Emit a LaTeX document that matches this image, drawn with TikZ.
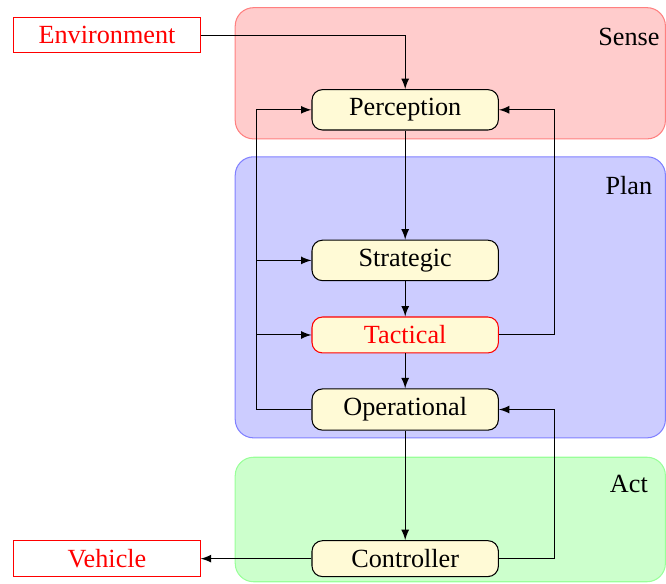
\documentclass[tikz,border=0pt]{standalone}
\usepackage{fontspec}
\setmainfont{Liberation Serif}
\usetikzlibrary{positioning}

\definecolor{boxfill}{RGB}{255,250,214}

\tikzset{
	layer/.style={rounded corners=7pt, thin},
	block/.style={draw, fill=boxfill, rounded corners=4pt, minimum width=2.5cm, thin},
	outside/.style={draw=red, text=red, fill=white, minimum width=2.5cm, thin},
}

\begin{document}
\begin{tikzpicture}[>=latex]
		\useasboundingbox (-1.435,-0.327) rectangle (7.498,7.493);
		% layers
		\draw[layer, draw=red!50, fill=red!20] (1.72,5.63) rectangle (7.49,7.39);
		\draw[layer, draw=blue!50, fill=blue!20] (1.72,1.62) rectangle (7.49,5.39);
		\draw[layer, draw=green!40, fill=green!20] (1.72,-0.31) rectangle (7.49,1.36);
		\node (sense) at (7,7) {Sense};
		\node (plan) at (7,5) {Plan};
		\node (act) at (7,1) {Act};

		\node[block] (perception) at (4,6.02) {Perception};
		\node[block] (strategic) at (4,4) {Strategic};
		\node[block, draw=red, text=red] (tactical) at (4,3) {Tactical};
		\node[block] (operational) at (4,2) {Operational};
		\node[block] (controller) at (4,0) {Controller};
		\node[outside] (environment) at (0,7.02) {Environment};
		\node[outside] (vehicle) at (0,0) {Vehicle};

		\coordinate (leftbus) at (2,0);
		\coordinate (rightbus) at (6,0);

		\draw[->] (environment) -| (perception);
		\draw[->] (perception) -- (strategic);
		\draw[->] (strategic) -- (tactical);
		\draw[->] (tactical) -- (operational);
		\draw[->] (operational) -- (controller);
		\draw[->] (controller) -- (vehicle);
		% feedback
		\draw[->] (operational.west) -- (operational.west -| leftbus) |- (perception.west);
		\draw[->] (leftbus |- strategic.west) -- (strategic.west);
		\draw[->] (leftbus |- tactical.west) -- (tactical.west);
		\draw[->] (tactical.east) -- (tactical.east -| rightbus) |- (perception.east);
		\draw[->] (controller.east) -- (controller.east -| rightbus) |- (operational.east);
	\end{tikzpicture}
\end{document}
